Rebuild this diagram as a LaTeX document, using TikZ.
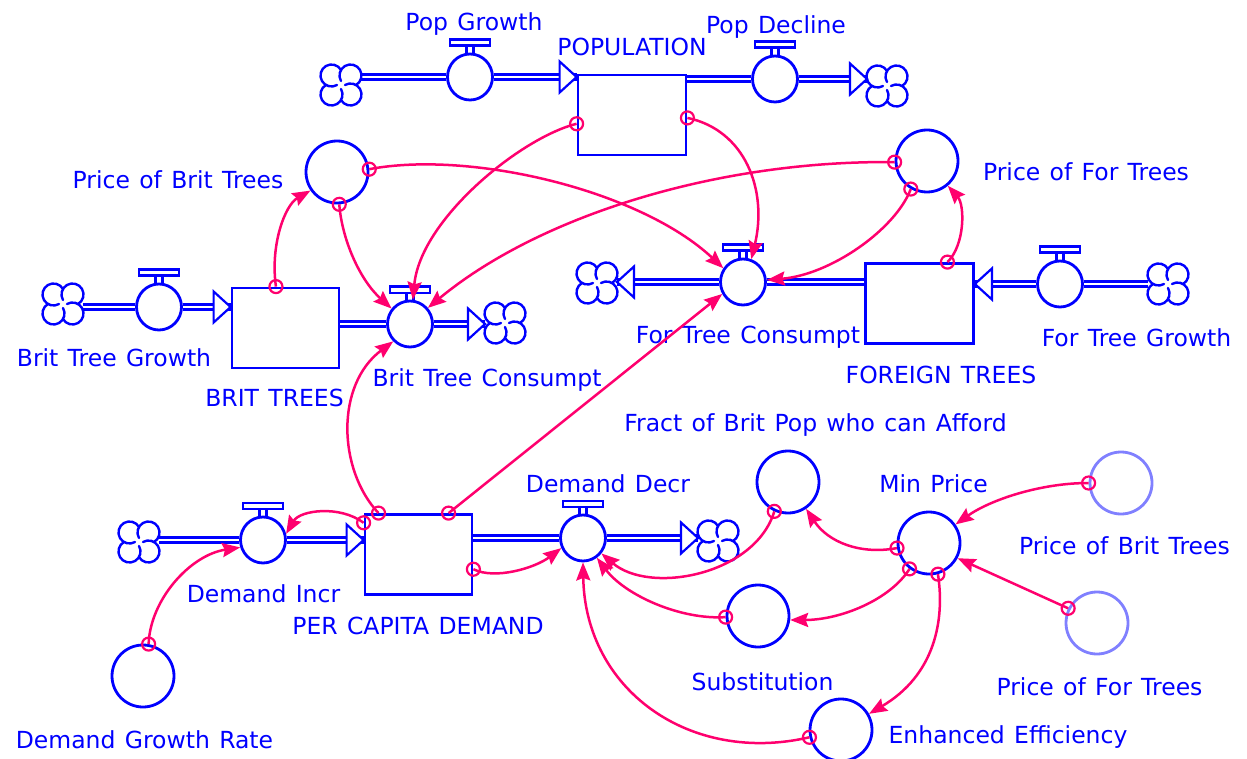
\documentclass[tikz,border=0pt]{standalone}
\usepackage{fontspec}
\setmainfont[WordSpace=1.25]{DejaVu Sans}
\usetikzlibrary{arrows.meta,shapes.geometric,calc}
\definecolor{vblue}{RGB}{0,0,255}
\definecolor{vmag}{RGB}{255,0,110}
\definecolor{vlight}{RGB}{128,128,255}
\tikzset{
  cloudp/.pic={
    \begin{scope}[yscale=-1, draw=vblue, line width=2.4pt, line cap=round]
      \foreach \a in {0,90,180,270} {
        \draw[rotate=\a] (0,15.05) arc[start angle=30.3, end angle=300, radius=11];
      }
    \end{scope}
  },
  parrR/.pic={\draw[draw=vblue, fill=white, line width=2.2pt, line join=miter] (0,0) -- (-17,-15.5) -- (-17,15.5) -- cycle;},
  parrL/.pic={\draw[draw=vblue, fill=white, line width=2.2pt, line join=miter] (0,0) -- (17,-15.5) -- (17,15.5) -- cycle;}
}
\begin{document}
\begin{tikzpicture}[x=1pt,y=-1pt,
  font=\fontsize{23.5}{28}\selectfont,
  lab/.style={text=vblue, inner sep=0pt, text height=17pt, text depth=0pt, anchor=center},
  stock/.style={draw=vblue, line width=2.8pt, fill=white, rectangle, minimum width=107pt, minimum height=80pt, inner sep=0pt},
  aux/.style={draw=vblue, line width=2.8pt, fill=white, circle, minimum size=62pt, inner sep=0pt},
  shadowaux/.style={aux, draw=vlight},
  valve/.style={draw=vblue, line width=2.8pt, fill=white, ellipse, minimum width=45pt, minimum height=46pt, inner sep=0pt},
  cloudn/.style={circle, inner sep=0pt, outer sep=0pt, minimum size=40pt},
  pipe/.style={draw=vblue, line width=2.2pt, double=white, double distance=2.8pt},
  handle/.style={draw=vblue, line width=2.2pt},
  conn/.style={draw=vmag, line width=2.5pt, -{Stealth[length=18pt,width=14pt,inset=2.5pt]}},
  tailc/.style={circle, draw=vmag, line width=2.2pt, minimum size=13pt, inner sep=0pt},
]
\useasboundingbox (0,0) rectangle (1247,759);
\fill[white] (0,0) rectangle (1247,759);

% clouds
\node[cloudn] (cpa) at (341,85) {};
\node[cloudn] (cpb) at (887,86) {};
\node[cloudn] (cba) at (63,304) {};
\node[cloudn] (cbb) at (505,323) {};
\node[cloudn] (cfa) at (597,283) {};
\node[cloudn] (cfb) at (1168,284) {};
\node[cloudn] (cda) at (139,542) {};
\node[cloudn] (cdb) at (718,541) {};

% stocks
\node[stock, minimum width=108pt] (pop) at (632,115) {};
\node[stock] (brit) at (285.5,328) {};
\node[stock, minimum width=108pt] (foreign) at (919.5,303.5) {};
\node[stock] (pcd) at (418.5,554.5) {};

% valves
\node[valve] (vpg) at (470,77) {};
\node[valve] (vpd) at (775,79) {};
\node[valve] (vbg) at (159,307) {};
\node[valve] (vbc) at (410,324) {};
\node[valve] (vfc) at (743,282) {};
\node[valve] (vfg) at (1060,284) {};
\node[valve] (vdi) at (263,540) {};
\node[valve] (vdd) at (583,538) {};

% pipes
\draw[pipe] (cpa.east |- vpg) -- (vpg.west);
\draw[pipe] (vpg.east) -- (pop.west |- vpg);
\pic at (pop.west |- vpg) {parrR};
\draw[pipe] (pop.east |- vpd) -- (vpd.west);
\draw[pipe] (vpd.east) -- (cpb.west |- vpd);
\pic at (cpb.west |- vpd) {parrR};
\draw[pipe] (cba.east |- vbg) -- (vbg.west);
\draw[pipe] (vbg.east) -- (brit.west |- vbg);
\pic at (brit.west |- vbg) {parrR};
\draw[pipe] (brit.east |- vbc) -- (vbc.west);
\draw[pipe] (vbc.east) -- (cbb.west |- vbc);
\pic at (cbb.west |- vbc) {parrR};
\draw[pipe] (foreign.west |- vfc) -- (vfc.east);
\draw[pipe] (vfc.west) -- (cfa.east |- vfc);
\pic at (cfa.east |- vfc) {parrL};
\draw[pipe] (cfb.west |- vfg) -- (vfg.east);
\draw[pipe] (vfg.west) -- (foreign.east |- vfg);
\pic at (foreign.east |- vfg) {parrL};
\draw[pipe] (cda.east |- vdi) -- (vdi.west);
\draw[pipe] (vdi.east) -- (pcd.west |- vdi);
\pic at (pcd.west |- vdi) {parrR};
\draw[pipe] (pcd.east |- vdd) -- (vdd.west);
\draw[pipe] (vdd.east) -- (cdb.west |- vdd);
\pic at (cdb.west |- vdd) {parrR};

\foreach \c in {cpa,cpb,cba,cbb,cfa,cfb,cda,cdb} {\pic at (\c) {cloudp};}

% valve handles
\foreach \v in {vpg,vpd,vbg,vbc,vfc,vfg,vdi,vdd} {
  \draw[handle] ($(\v.north)+(-3.5,0)$) -- ++(0,-7);
  \draw[handle] ($(\v.north)+(3.5,0)$) -- ++(0,-7);
  \draw[handle, fill=white] ($(\v.north)+(-20,-7)$) rectangle ($(\v.north)+(20,-13)$);
}

% auxiliaries
\node[aux] (pbt) at (337,172) {};
\node[aux] (pft) at (927,161) {};
\node[aux] (fract) at (788,482) {};
\node[aux] (minp) at (929,543) {};
\node[shadowaux] (pbt2) at (1121,483) {};
\node[shadowaux] (pft2) at (1097,623) {};
\node[aux] (subst) at (758,616) {};
\node[aux] (enh) at (841,730) {};
\node[aux] (dgr) at (143,676) {};

% labels
\node[lab] (lpg) at (474,22) {Pop Growth};
\node[lab] (lpop) at (632,47) {POPULATION};
\node[lab] (lpd) at (776,25) {Pop Decline};
\node[lab] (lpbt) at (178,180) {Price of Brit Trees};
\node[lab] (lpft) at (1086,172) {Price of For Trees};
\node[lab] (lbg) at (114,358) {Brit Tree Growth};
\node[lab] (lbrit) at (274.5,398) {BRIT TREES};
\node[lab] (lbc) at (487,378) {Brit Tree Consumpt};
\node[lab] (lfc) at (748,335) {For Tree Consumpt};
\node[lab] (lfor) at (941,375) {FOREIGN TREES};
\node[lab] (lfg) at (1136.5,338) {For Tree Growth};
\node[lab] (lfract) at (815.5,423) {Fract of Brit Pop who can Afford};
\node[lab] (ldd) at (608,484) {Demand Decr};
\node[lab] (lminp) at (933.5,484) {Min Price};
\node[lab] (lpbt2) at (1124.5,546) {Price of Brit Trees};
\node[lab] (ldi) at (263.5,594) {Demand Incr};
\node[lab] (lpcd) at (418,626) {PER CAPITA DEMAND};
\node[lab] (lsubst) at (762.5,682) {Substitution};
\node[lab] (lpft2) at (1099.5,687) {Price of For Trees};
\node[lab] (ldgr) at (144.5,740) {Demand Growth Rate};
\node[lab] (lenh) at (1008,735) {Enhanced Efficiency};

% connectors
\draw[conn] (pop.189) .. controls (520,138) and (420,220) .. (vbc.83) node[tailc,pos=0]{};
\draw[conn] (pop.-3) .. controls (745,130) and (768,190) .. (vfc.70) node[tailc,pos=0]{};
\draw[conn] (pbt.5) .. controls (470,150) and (640,190) .. (vfc.145) node[tailc,pos=0]{};
\draw[conn] (pbt.-86) .. controls (342,240) and (360,280) .. (vbc.140) node[tailc,pos=0]{};
\draw[conn] (brit.103) .. controls (270,245) and (285,205) .. (pbt.215) node[tailc,pos=0]{};
\draw[conn] (pft.182) .. controls (720,160) and (540,215) .. (vbc.42) node[tailc,pos=0]{};
\draw[conn] (pft.240) .. controls (895,230) and (830,275) .. (vfc.5) node[tailc,pos=0]{};
\draw[conn] (foreign.56) .. controls (965,245) and (965,205) .. (pft.-50) node[tailc,pos=0]{};
\draw[conn] (pcd.134) .. controls (338,470) and (335,385) .. (vbc.226) node[tailc,pos=0]{};
\draw[conn] (pcd.54) -- (vfc.210) node[tailc,pos=0]{};
\draw[conn] (pcd.150) .. controls (340,505) and (300,510) .. (vdi.15) node[tailc,pos=0]{};
\draw[conn] (dgr.80) .. controls (150,600) and (190,555) .. (vdi.198) node[tailc,pos=0]{};
\draw[conn] (pcd.-15) .. controls (495,580) and (535,568) .. (vdd.205) node[tailc,pos=0]{};
\draw[conn] (fract.245) .. controls (755,575) and (650,595) .. (vdd.-40) node[tailc,pos=0]{};
\draw[conn] (subst.182) .. controls (680,620) and (625,595) .. (vdd.-55) node[tailc,pos=0]{};
\draw[conn] (enh.193) .. controls (690,765) and (585,690) .. (vdd.-90) node[tailc,pos=0]{};
\draw[conn] (minp.189) .. controls (860,555) and (828,542) .. (fract.-56) node[tailc,pos=0]{};
\draw[conn] (minp.233) .. controls (890,600) and (840,620) .. (subst.-7) node[tailc,pos=0]{};
\draw[conn] (minp.-74) .. controls (945,620) and (935,675) .. (enh.30) node[tailc,pos=0]{};
\draw[conn] (pbt2.180) .. controls (1040,483) and (990,500) .. (minp.35) node[tailc,pos=0]{};
\draw[conn] (pft2.153) -- (minp.-28) node[tailc,pos=0]{};
\end{tikzpicture}
\end{document}
